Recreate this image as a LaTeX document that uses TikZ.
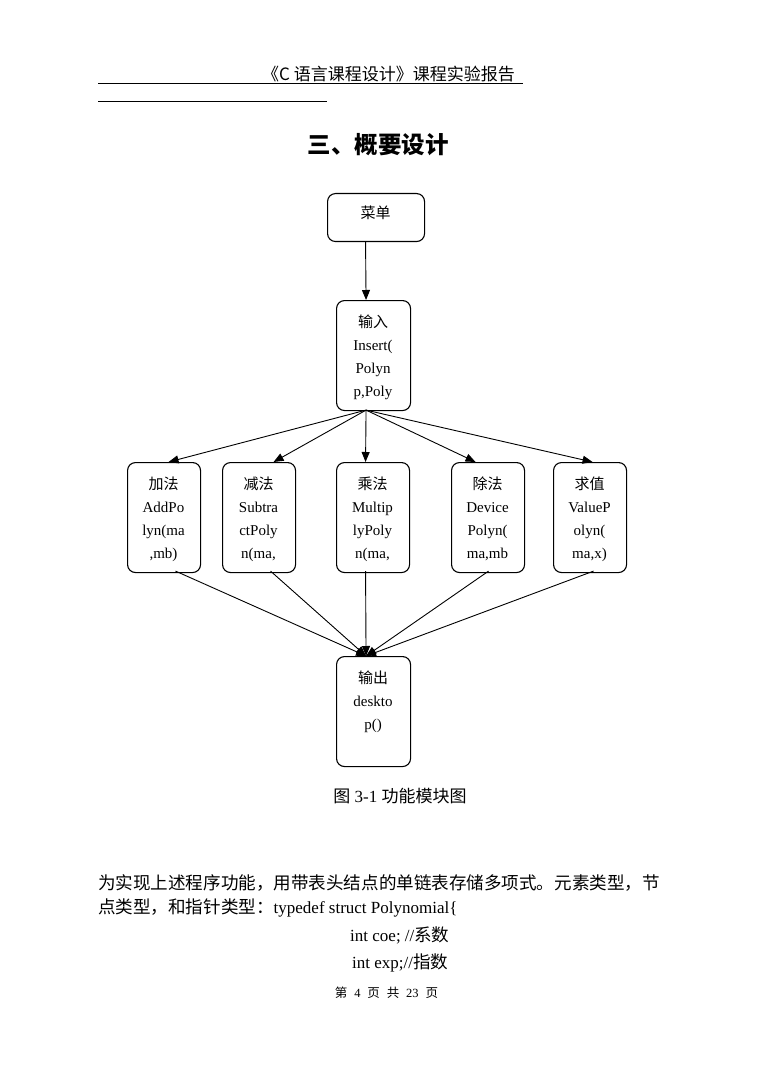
\documentclass[tikz,border=0pt]{standalone}
\usepackage{fontspec}
\setmainfont{Liberation Serif}
\newfontfamily\cjk{Noto Sans CJK SC}
\usetikzlibrary{arrows.meta}
\newcommand\fgap{\hspace{6.9pt}}
\begin{document}
\begin{tikzpicture}[x=1pt,y=-1pt,
  box/.style={draw, line width=1.1pt, rounded corners=8pt, inner sep=0pt, anchor=north west},
  ntext/.style={anchor=base, align=center, inner sep=0pt, font=\fontsize{15}{23}\selectfont},
  conn/.style={line width=0.9pt, -{Triangle[length=10pt,width=8pt]}},
  rule/.style={line width=1pt},
  ptext/.style={inner sep=0pt, anchor=base west},
]
\fill[white] (0,0) rectangle (761,1075);
\path[use as bounding box] (0,0) rectangle (761,1075);

% header
\node[anchor=base, inner sep=0pt, font=\cjk\fontsize{17}{20}\selectfont] (hdr) at (388.5,81) {《C 语言课程设计》课程实验报告};
\coordinate (h1a) at (98,83.3);
\coordinate (h1b) at (523,83.3);
\coordinate (h2a) at (98,102);
\coordinate (h2b) at (327,102);
\draw[rule] (h1a) -- (h1b);
\draw[rule] (h2a) -- (h2b);

% title
\node[anchor=base, inner sep=0pt, font=\cjk\bfseries\fontsize{23.5}{28}\selectfont] (title) at (378,154) {三、概要设计};

% boxes
\node[box, minimum width=97pt, minimum height=48pt] (menu) at (327,193) {};
\node[box, minimum width=74pt, minimum height=110pt] (in) at (336,300) {};
\node[box, minimum width=73pt, minimum height=110pt] (add) at (127,462) {};
\node[box, minimum width=73pt, minimum height=110pt] (sub) at (222,462) {};
\node[box, minimum width=73pt, minimum height=110pt] (mul) at (336,462) {};
\node[box, minimum width=73pt, minimum height=110pt] (div) at (451,462) {};
\node[box, minimum width=73pt, minimum height=110pt] (val) at (553,462) {};
\node[box, minimum width=74pt, minimum height=110pt] (out) at (336,656) {};

% box texts (anchor = baseline of the last line)
\node[ntext] (menuT) at (375.5,219) {{\cjk 菜单}};
\node[ntext] (inT) at (373,396.5) {{\cjk 输入}\\Insert(\\Polyn\\p,Poly};
\node[ntext] (addT) at (163.5,558) {{\cjk 加法}\\AddPo\\lyn(ma\\,mb)};
\node[ntext] (subT) at (258.5,558) {{\cjk 减法}\\Subtra\\ctPoly\\n(ma,};
\node[ntext] (mulT) at (372.5,558) {{\cjk 乘法}\\Multip\\lyPoly\\n(ma,};
\node[ntext] (divT) at (487.5,558) {{\cjk 除法}\\Device\\Polyn(\\ma,mb};
\node[ntext] (valT) at (589.5,558) {{\cjk 求值}\\ValueP\\olyn(\\ma,x)};
\node[ntext] (outT) at (373,729.5) {{\cjk 输出}\\deskto\\p()};

% connectors
\draw[conn] ([xshift=-10.5pt]menu.south) -- ([xshift=-7.5pt]in.north);
\draw[conn] ([xshift=-7.5pt,yshift=1pt]in.south) -- ([xshift=4.5pt]add.north);
\draw[conn] ([xshift=-7.5pt,yshift=1pt]in.south) -- ([xshift=14.5pt]sub.north);
\draw[conn] ([xshift=-7.5pt,yshift=1pt]in.south) -- ([xshift=-7.5pt]mul.north);
\draw[conn] ([xshift=-7.5pt,yshift=1pt]in.south) -- ([xshift=-12.5pt]div.north);
\draw[conn] ([xshift=-7.5pt,yshift=1pt]in.south) -- ([xshift=2.5pt]val.north);
\draw[conn] ([xshift=11.5pt,yshift=2pt]add.south) -- ([xshift=-7.5pt]out.north);
\draw[conn] ([xshift=11.5pt,yshift=2pt]sub.south) -- ([xshift=-7.5pt]out.north);
\draw[conn] ([xshift=-7.5pt,yshift=2pt]mul.south) -- ([xshift=-7.5pt]out.north);
\draw[conn] ([xshift=0.5pt,yshift=2pt]div.south) -- ([xshift=-7.5pt]out.north);
\draw[conn] ([xshift=3.5pt,yshift=2pt]val.south) -- ([xshift=-7.5pt]out.north);

% caption
\node[anchor=base, inner sep=0pt, font=\fontsize{17}{20}\selectfont] (cap) at (400,802.5) {{\cjk 图} 3-1 {\cjk 功能模块图}};

% body text
\node[ptext, font=\fontsize{17.55}{22}\selectfont] (p1) at (98,889) {{\cjk 为实现上述程序功能，用带表头结点的单链表存储多项式。元素类型，节}};
\node[ptext, font=\fontsize{17.55}{22}\selectfont] (p2) at (98,913) {{\cjk 点类型，和指针类型：}{\fontsize{17}{20}\selectfont typedef struct Polynomial\{}};
\node[ptext, font=\fontsize{17}{20}\selectfont] (p3) at (350,941) {int coe; //{\cjk\fontsize{17.55}{20}\selectfont 系数}};
\node[ptext, font=\fontsize{17}{20}\selectfont] (p4) at (352,968.5) {int exp;//{\cjk\fontsize{17.55}{20}\selectfont 指数}};

% footer
\node[anchor=base, inner sep=0pt, font=\fontsize{12.5}{15}\selectfont] (foot) at (386.5,997) {{\cjk 第}\fgap 4\fgap{\cjk 页}\fgap{\cjk 共}\fgap 23\fgap{\cjk 页}};
\end{tikzpicture}
\end{document}
